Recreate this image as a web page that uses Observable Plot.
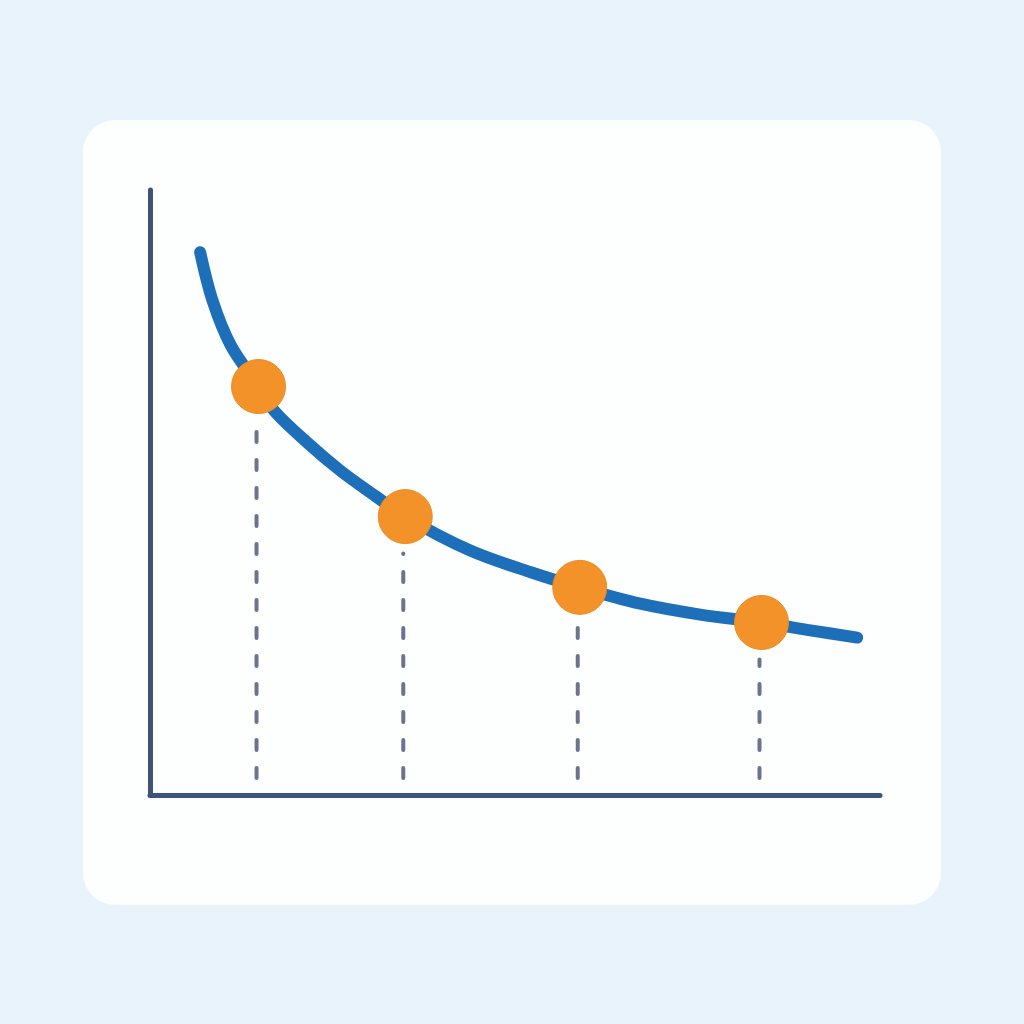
<!DOCTYPE html>
<html>
<head>
<meta charset="utf-8">
<script src="https://cdn.jsdelivr.net/npm/d3@7"></script>
<script src="https://cdn.jsdelivr.net/npm/@observablehq/plot@0.6"></script>
<style>
  html, body { margin: 0; padding: 0; width: 1024px; height: 1024px; background: #e8f3fb; overflow: hidden; }
  #card { position: absolute; left: 83px; top: 120px; width: 858px; height: 785px; border-radius: 32px; background: #fdfefe; }
  #chart { position: absolute; left: 0; top: 0; }
  #chart svg { background: transparent; }
</style>
</head>
<body>
<div id="card"></div>
<div id="chart"></div>
<script>
// Curve samples (x, y)
const curveX = [0.68, 0.85, 1.10, 1.48, 1.68, 2.15, 2.60, 3.08, 3.49, 4.38, 5.21, 5.88, 6.71, 7.53, 8.37, 9.04, 9.68];
const curveY = [8.98, 8.18, 7.44, 6.76, 6.38, 5.83, 5.37, 4.95, 4.61, 4.05, 3.69, 3.44, 3.17, 2.99, 2.86, 2.73, 2.61];
// Highlighted points
const pointX = [1.48, 3.49, 5.88, 8.37];
const pointY = [6.76, 4.61, 3.44, 2.86];

const curve = curveX.map((x, i) => ({x, y: curveY[i]}));
const points = pointX.map((x, i) => ({x, y: pointY[i]}));

const chart = Plot.plot({
  width: 1024,
  height: 1024,
  margin: 0,
  style: {background: "transparent"},
  x: {domain: [0, 10], range: [150, 880], axis: null},
  y: {domain: [0, 10], range: [795, 190], axis: null},
  marks: [
    Plot.ruleX(points, {x: "x", dx: -2, y1: 0.28, y2: d => d.y - 0.62, stroke: "#6b7391", strokeWidth: 4, strokeDasharray: "10,18", strokeLinecap: "round"}),
    Plot.ruleX([0], {y1: 0, y2: 10, stroke: "#3b5477", strokeWidth: 5, strokeLinecap: "round"}),
    Plot.ruleY([0], {x1: 0, x2: 10, stroke: "#3b5477", strokeWidth: 5, strokeLinecap: "round"}),
    Plot.line(curve, {x: "x", y: "y", curve: "catmull-rom", stroke: "#1c6fb8", strokeWidth: 12, strokeLinecap: "round", strokeLinejoin: "round"}),
    Plot.dot(points, {x: "x", y: "y", r: 27, fill: "#f4922a", stroke: "#ee8a22", strokeWidth: 1})
  ]
});
document.getElementById("chart").appendChild(chart);
</script>
</body>
</html>
